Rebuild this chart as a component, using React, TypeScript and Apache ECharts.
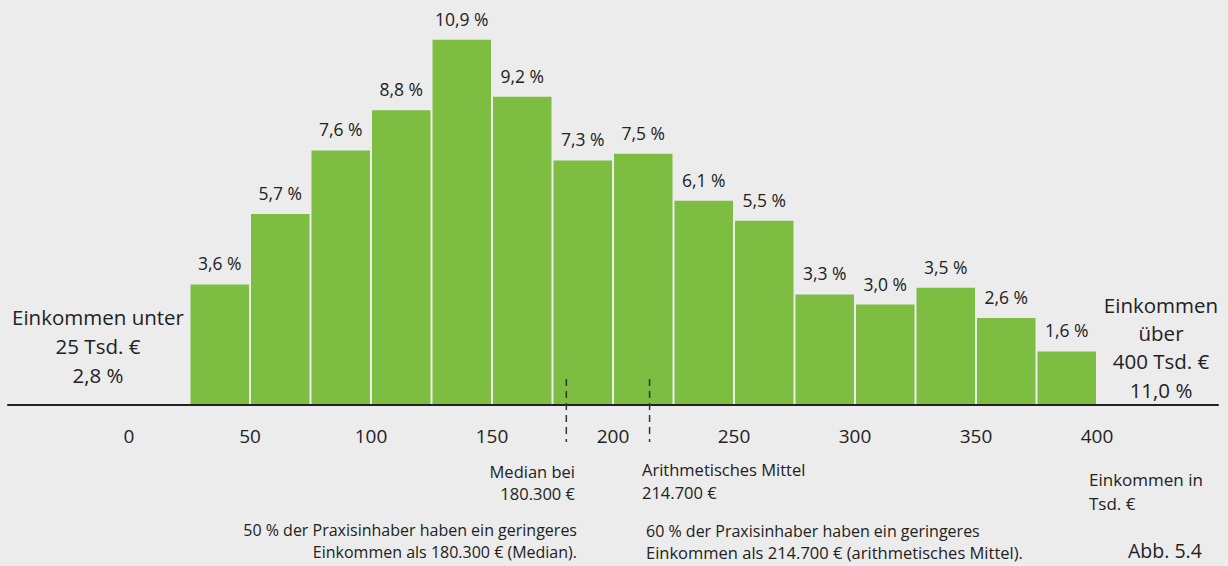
import React, { useEffect, useRef } from "react";
import * as echarts from "echarts";

// Income bins (Tsd. €) and share of practice owners (%)
const BIN_FROM = [25, 50, 75, 100, 125, 150, 175, 200, 225, 250, 275, 300, 325, 350, 375];
const BIN_TO = [50, 75, 100, 125, 150, 175, 200, 225, 250, 275, 300, 325, 350, 375, 400];
const SHARE = [3.6, 5.7, 7.6, 8.8, 10.9, 9.2, 7.3, 7.5, 6.1, 5.5, 3.3, 3.0, 3.5, 2.6, 1.6];
const X_TICK_MIN = 0;
const X_TICK_MAX = 400;
const MEDIAN = 180.3;
const MEAN = 214.7;
const BELOW_SHARE = 2.8;
const ABOVE_SHARE = 11.0;

const FONT = '"Open Sans", "Noto Sans", sans-serif';
const TXT = "#222222";
const GREEN = "#7dbd42";
const BG = "#ececec";

const fmt = (v: number) => v.toFixed(1).replace(".", ",") + " %";

export default function App() {
  const ref = useRef<HTMLDivElement>(null);
  useEffect(() => {
    if (!ref.current) return;
    const chart = echarts.init(ref.current, undefined, { renderer: "svg" });
    const bins = BIN_FROM.map((f, i) => [f, BIN_TO[i], SHARE[i]]);
    const t = (text: string, x: number, y: number, size: number, align: string) => ({
      type: "text",
      x,
      y,
      style: {
        text,
        fill: TXT,
        fontSize: size,
        fontFamily: FONT,
        align,
        verticalAlign: "middle",
        lineHeight: size * 1.15,
      },
    });
    chart.setOption({
      animation: false,
      backgroundColor: BG,
      grid: { left: 8, right: 10, top: 3, bottom: 161 },
      xAxis: {
        type: "value",
        min: -50,
        max: 450,
        interval: 50,
        axisLine: { show: true, lineStyle: { color: TXT, width: 2 } },
        axisTick: { show: false },
        splitLine: { show: false },
        axisLabel: {
          margin: 21,
          fontSize: 19,
          fontFamily: FONT,
          color: TXT,
          formatter: (v: number) => (v < X_TICK_MIN || v > X_TICK_MAX ? "" : String(v)),
        },
      },
      yAxis: { type: "value", min: 0, max: 12, show: false },
      series: [
        {
          type: "custom",
          data: bins,
          encode: { x: [0, 1], y: 2 },
          renderItem: (params: any, api: any) => {
            const x0 = api.value(0);
            const x1 = api.value(1);
            const v = api.value(2);
            const p0 = api.coord([x0, v]);
            const p1 = api.coord([x1, 0]);
            return {
              type: "group",
              children: [
                {
                  type: "rect",
                  shape: { x: p0[0] + 1, y: p0[1], width: p1[0] - p0[0] - 2, height: p1[1] - p0[1] - 1 },
                  style: { fill: GREEN },
                },
                {
                  type: "text",
                  x: (p0[0] + p1[0]) / 2,
                  y: p0[1] - 21,
                  style: {
                    text: fmt(v),
                    fill: TXT,
                    fontSize: 17.5,
                    fontFamily: FONT,
                    align: "center",
                    verticalAlign: "middle",
                  },
                },
              ],
            };
          },
        },
        {
          type: "custom",
          data: [[MEDIAN], [MEAN]],
          encode: { x: 0 },
          z: 5,
          renderItem: (params: any, api: any) => {
            const p = api.coord([api.value(0), 0]);
            return {
              type: "line",
              shape: { x1: p[0] + 1, y1: p[1] - 26, x2: p[0] + 1, y2: p[1] + 37 },
              style: { stroke: "#333", lineWidth: 1.5, lineDash: [7, 5] },
            };
          },
        },
      ],
      graphic: [
        t("Einkommen unter", 98, 317, 20.5, "center"),
        t("25 Tsd. €", 98, 346, 20.5, "center"),
        t(fmt(BELOW_SHARE), 98, 375, 20.5, "center"),
        t("Einkommen", 1161, 305, 20.5, "center"),
        t("über", 1161, 333, 20.5, "center"),
        t("400 Tsd. €", 1161, 361, 20.5, "center"),
        t(fmt(ABOVE_SHARE), 1161, 390, 20.5, "center"),
        t("Median bei", 575, 471, 16.5, "right"),
        t("180.300 €", 575, 493, 16.5, "right"),
        t("Arithmetisches Mittel", 642, 469, 16.5, "left"),
        t("214.700 €", 642, 492, 16.5, "left"),
        t("50 % der Praxisinhaber haben ein geringeres", 577, 530, 16, "right"),
        t("Einkommen als 180.300 € (Median).", 577, 552, 16, "right"),
        t("60 % der Praxisinhaber haben ein geringeres", 646, 531, 16, "left"),
        t("Einkommen als 214.700 € (arithmetisches Mittel).", 646, 552, 16.5, "left"),
        t("Einkommen in", 1089, 479, 17, "left"),
        t("Tsd. €", 1089, 503, 17, "left"),
        t("Abb. 5.4", 1128, 550, 19.5, "left"),
      ],
    });
    return () => chart.dispose();
  }, []);
  return (
    <div
      ref={ref}
      style={{ position: "fixed", left: 0, top: 0, width: 1228, height: 566 }}
    />
  );
}
